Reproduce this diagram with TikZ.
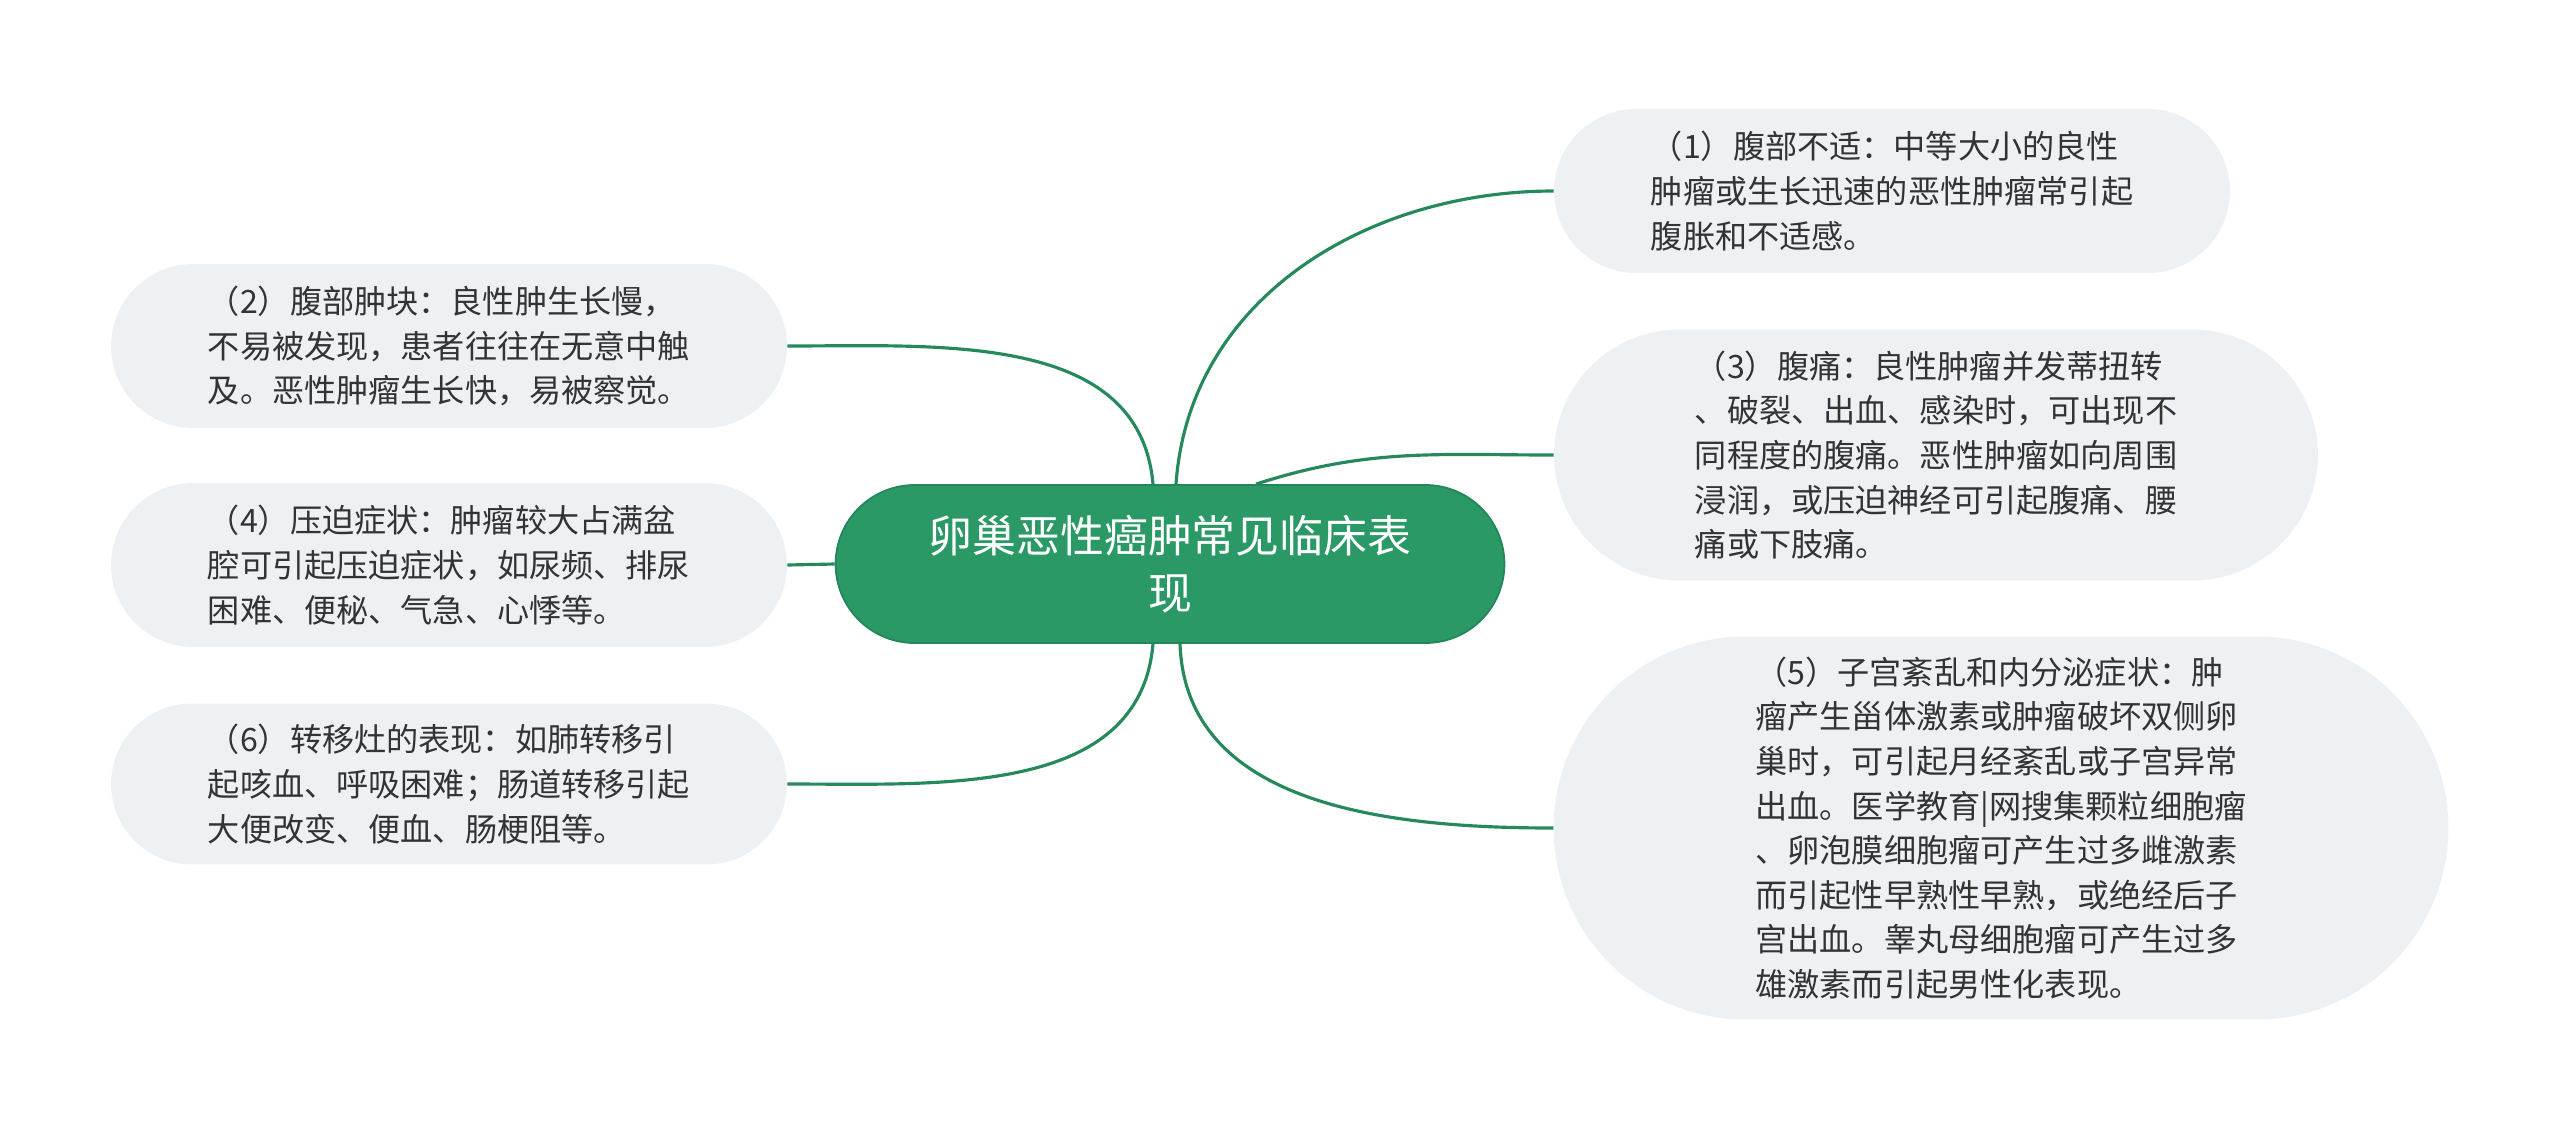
\documentclass[tikz,border=0pt]{standalone}
\usepackage{fontspec}
\newfontfamily\cjk{Noto Sans CJK SC}
\usetikzlibrary{shapes.misc}
\definecolor{leaffill}{HTML}{EEF1F4}
\definecolor{rootfill}{HTML}{2A9966}
\definecolor{rootedge}{HTML}{23855A}
\definecolor{linkc}{HTML}{26895C}
\definecolor{txt}{HTML}{333333}
\tikzset{
  leaf/.style={rounded rectangle, fill=leaffill, draw=none, align=left, text=txt,
    font=\cjk\fontsize{18.3pt}{25.4pt}\selectfont, inner sep=0pt},
  rootnode/.style={rounded rectangle, fill=rootfill, draw=rootedge, line width=1pt, align=center, text=white,
    font=\cjk\fontsize{25pt}{32.5pt}\selectfont, inner sep=0pt},
  link/.style={draw=linkc, line width=1.8pt}
}
\begin{document}
\begin{tikzpicture}[x=0.02cm,y=-0.02cm]
\useasboundingbox (0,0) rectangle (2560,1130);
\node[rootnode, minimum width=13.38cm, minimum height=3.16cm] (root) at (1170,564) {卵巢恶性癌肿常见临床表\\现};
\node[leaf, minimum width=13.52cm, minimum height=3.28cm] (n1) at (1892,191) {（1）腹部不适：中等大小的良性\\肿瘤或生长迅速的恶性肿瘤常引起\\腹胀和不适感。};
\node[leaf, minimum width=15.28cm, minimum height=5.02cm] (n3) at (1936,455) {（3）腹痛：良性肿瘤并发蒂扭转\\、破裂、出血、感染时，可出现不\\同程度的腹痛。恶性肿瘤如向周围\\浸润，或压迫神经可引起腹痛、腰\\痛或下肢痛。};
\node[leaf, minimum width=17.9cm, minimum height=7.66cm] (n5) at (2001,828) {（5）子宫紊乱和内分泌症状：肿\\瘤产生甾体激素或肿瘤破坏双侧卵\\巢时，可引起月经紊乱或子宫异常\\出血。医学教育|网搜集颗粒细胞瘤\\、卵泡膜细胞瘤可产生过多雌激素\\而引起性早熟性早熟，或绝经后子\\宫出血。睾丸母细胞瘤可产生过多\\雄激素而引起男性化表现。};
\node[leaf, minimum width=13.52cm, minimum height=3.28cm] (n2) at (449,346) {（2）腹部肿块：良性肿生长慢，\\不易被发现，患者往往在无意中触\\及。恶性肿瘤生长快，易被察觉。};
\node[leaf, minimum width=13.52cm, minimum height=3.28cm] (n4) at (449,565) {（4）压迫症状：肿瘤较大占满盆\\腔可引起压迫症状，如尿频、排尿\\困难、便秘、气急、心悸等。};
\node[leaf, minimum width=13.52cm, minimum height=3.22cm] (n6) at (449,784) {（6）转移灶的表现：如肺转移引\\起咳血、呼吸困难；肠道转移引起\\大便改变、便血、肠梗阻等。};
\draw[link] ([xshift=0.12cm]root.north) to[out=86,in=180] (n1.west);
\draw[link] ([xshift=1.72cm]root.north) to[out=18,in=180] (n3.west);
\draw[link] ([xshift=0.2cm]root.south) to[out=-88,in=180] (n5.west);
\draw[link] ([xshift=-0.34cm]root.north) to[out=95,in=0] (n2.east);
\draw[link] (root.west) -- (n4.east);
\draw[link] ([xshift=-0.34cm]root.south) to[out=-95,in=0] (n6.east);
\end{tikzpicture}
\end{document}
